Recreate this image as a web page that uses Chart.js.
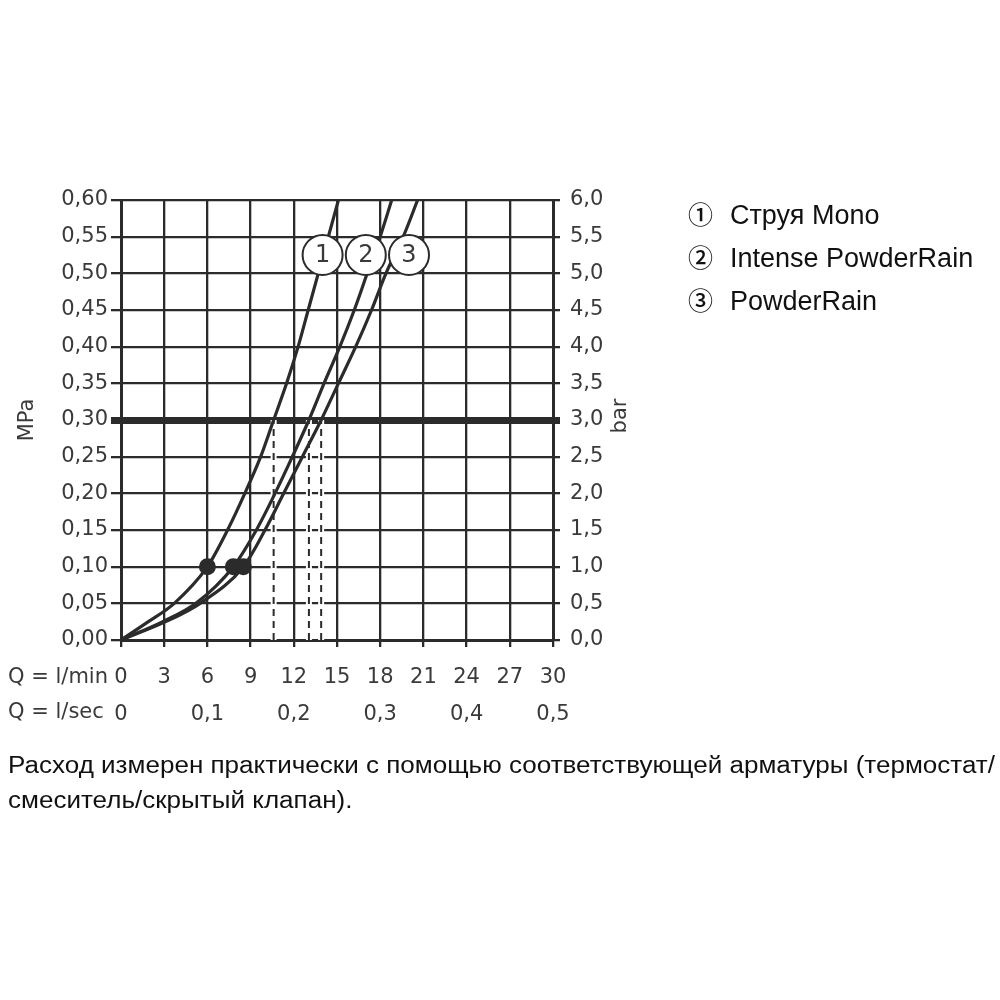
<!DOCTYPE html>
<html>
<head>
<meta charset="utf-8">
<script src="https://cdn.jsdelivr.net/npm/chart.js@4.4.0/dist/chart.umd.min.js"></script>
<style>
html,body{margin:0;padding:0;background:#fff;width:1000px;height:1000px;overflow:hidden;}
#wrap{position:relative;width:1000px;height:1000px;}
#c{position:absolute;left:0;top:0;}
.leg{position:absolute;left:688px;font-family:"Liberation Sans",Arial,sans-serif;font-size:27px;color:#111;white-space:nowrap;line-height:30px;height:30px;}
.leg .mk{display:inline-block;width:42px;font-family:"Noto Sans CJK JP","DejaVu Sans",sans-serif;font-size:25px;font-weight:500;}
.note{position:absolute;left:8px;font-family:"Liberation Sans",Arial,sans-serif;font-size:23px;color:#111;white-space:nowrap;transform-origin:0 0;line-height:26px;}
</style>
</head>
<body>
<div id="wrap">
<canvas id="c" width="1000" height="1000"></canvas>
<div id="legend"></div>
<div id="n1" class="note" style="top:752px"></div>
<div id="n2" class="note" style="top:787px"></div>
</div>
<script>
// ---- data ----
const xTickLabelsLmin = ['0','3','6','9','12','15','18','21','24','27','30'];
const xTickLabelsLsec = ['0','0,1','0,2','0,3','0,4','0,5'];
const yTickLabelsMPa = ['0,00','0,05','0,10','0,15','0,20','0,25','0,30','0,35','0,40','0,45','0,50','0,55','0,60'];
const yTickLabelsBar = ['0,0','0,5','1,0','1,5','2,0','2,5','3,0','3,5','4,0','4,5','5,0','5,5','6,0'];
const pressureMPa   = [0, 0.025, 0.05, 0.10, 0.15, 0.20, 0.25, 0.30, 0.35, 0.40, 0.45, 0.50, 0.55, 0.60];
const flowMono      = [0, 1.9, 3.7, 6.0, 7.4, 8.6, 9.7, 10.6, 11.5, 12.3, 13.0, 13.7, 14.4, 15.1];
const flowIntense   = [0, 2.9, 5.2, 7.8, 9.4, 10.7, 11.9, 13.05, 14.1, 15.2, 16.2, 17.1, 18.0, 18.8];
const flowPowder    = [0, 3.1, 5.5, 8.5, 10.0, 11.3, 12.6, 13.9, 15.1, 16.3, 17.4, 18.4, 19.6, 20.6];
const seriesNames = ['Струя Mono', 'Intense PowderRain', 'PowderRain'];
const seriesMarks = ['①', '②', '③'];
const seriesNumbers = ['1', '2', '3'];
const refPressure = 0.30;
const dotPressure = 0.10;
const tagPressure = 0.525;
const tagFlow = [14, 17, 20];
const axisTitleLeft = 'MPa';
const axisTitleRight = 'bar';
const rowLabelLmin = 'Q = l/min';
const rowLabelLsec = 'Q = l/sec';
const noteLines = [
  'Расход измерен практически с помощью соответствующей арматуры (термостат/',
  'смеситель/скрытый клапан).'
];

// ---- html text ----
const legendEl = document.getElementById('legend');
const legTops = [198, 241, 284];
seriesNames.forEach((n, i) => {
  const d = document.createElement('div');
  d.className = 'leg';
  d.style.top = legTops[i] + 'px';
  const m = document.createElement('span'); m.className = 'mk'; m.textContent = seriesMarks[i];
  d.appendChild(m);
  d.appendChild(document.createTextNode(n));
  legendEl.appendChild(d);
});
const n1 = document.getElementById('n1'), n2 = document.getElementById('n2');
n1.textContent = noteLines[0]; n2.textContent = noteLines[1];
function fitNote(){
  n1.style.transform = 'none'; n2.style.transform = 'none';
  const w = n1.getBoundingClientRect().width;
  const s = 987 / w;
  n1.style.transform = 'scaleX(' + s + ')';
  n2.style.transform = 'scaleX(' + s + ')';
}
fitNote();
if (document.fonts && document.fonts.ready) document.fonts.ready.then(fitNote);

// ---- chart ----
const INK = '#2b2b2b';
const TXT = '#3a3a3a';
const tickFont = {family: '"DejaVu Sans", sans-serif', size: 21};
const toPts = flows => flows.map((q, i) => ({x: q, y: pressureMPa[i]}));
const curves = [flowMono, flowIntense, flowPowder];
const iRef = pressureMPa.indexOf(refPressure);
const iDot = pressureMPa.indexOf(dotPressure);

const datasets = [];
datasets.push({
  label: 'dots', data: curves.map(c => ({x: c[iDot], y: dotPressure})),
  showLine: false, pointRadius: 8.5, pointBackgroundColor: INK, pointBorderWidth: 0, order: 0
});
curves.forEach((c, i) => datasets.push({
  label: seriesNames[i], data: toPts(c), showLine: true, borderColor: INK, borderWidth: 3.2,
  pointRadius: 0, cubicInterpolationMode: 'monotone', order: 1
}));
curves.forEach((c, i) => datasets.push({
  label: 'dash' + i, data: [{x: c[iRef], y: 0}, {x: c[iRef], y: refPressure}], showLine: true,
  borderColor: INK, borderWidth: 2, borderDash: [7, 5], pointRadius: 0, order: 2
}));
curves.forEach((c, i) => datasets.push({
  label: 'band' + i, data: [{x: c[iRef], y: 0}, {x: c[iRef], y: refPressure}], showLine: true,
  borderColor: '#ffffff', borderWidth: 6, pointRadius: 0, order: 3
}));

const isRef = (v, r) => Math.abs(v - r) < 1e-6;

const decor = {
  id: 'decor',
  afterDatasetsDraw(chart) {
    const {ctx, scales} = chart;
    ctx.save();
    tagFlow.forEach((f, i) => {
      const px = scales.x.getPixelForValue(f), py = scales.y.getPixelForValue(tagPressure);
      ctx.beginPath(); ctx.arc(px, py, 20, 0, Math.PI * 2);
      ctx.fillStyle = '#fff'; ctx.fill();
      ctx.lineWidth = 2; ctx.strokeStyle = INK; ctx.stroke();
      ctx.fillStyle = TXT; ctx.font = '24px "DejaVu Sans", sans-serif';
      ctx.textAlign = 'center'; ctx.textBaseline = 'middle';
      ctx.fillText(seriesNumbers[i], px, py + 1);
    });
    ctx.restore();
  },
  afterDraw(chart) {
    const {ctx, scales} = chart;
    ctx.save();
    ctx.fillStyle = TXT; ctx.font = '21px "DejaVu Sans", sans-serif';
    ctx.textAlign = 'left'; ctx.textBaseline = 'middle';
    ctx.fillText(rowLabelLmin, 8, 678);
    ctx.fillText(rowLabelLsec, 8, 713);
    ctx.translate(621, 416);
    ctx.rotate(-Math.PI / 2);
    ctx.textAlign = 'center';
    ctx.fillText(axisTitleRight, 0, 0);
    ctx.restore();
  }
};

new Chart(document.getElementById('c'), {
  type: 'scatter',
  data: {datasets},
  plugins: [decor],
  options: {
    responsive: false, animation: false, devicePixelRatio: 1,
    layout: {padding: {top: 200, left: 0, right: 0, bottom: 0}},
    plugins: {legend: {display: false}, tooltip: {enabled: false}},
    scales: {
      x: {
        type: 'linear', position: 'bottom', min: 0, max: 30, weight: 0,
        afterFit: s => { s.height = 52; },
        ticks: {stepSize: 3, padding: 18, color: TXT, font: tickFont, maxRotation: 0,
                callback: (v, i) => xTickLabelsLmin[i]},
        grid: {color: INK, lineWidth: 2.3, tickLength: 7},
        border: {color: INK, width: 3}
      },
      x2: {
        type: 'linear', position: 'bottom', min: 0, max: 0.5, weight: 1,
        afterFit: s => { s.height = 308; },
        ticks: {stepSize: 0.1, padding: 2, color: TXT, font: tickFont, maxRotation: 0,
                callback: (v, i) => xTickLabelsLsec[i]},
        grid: {display: false},
        border: {display: false}
      },
      y: {
        type: 'linear', position: 'left', min: 0, max: 0.6,
        afterFit: s => { s.width = 121; },
        ticks: {stepSize: 0.05, padding: 3, color: TXT, font: tickFont,
                callback: (v, i) => yTickLabelsMPa[i]},
        grid: {color: INK, tickLength: 10,
               lineWidth: c => (c.tick && isRef(c.tick.value, refPressure)) ? 7 : 2.3},
        border: {color: INK, width: 3},
        title: {display: true, text: axisTitleLeft, color: TXT, font: tickFont, padding: {top: 15, bottom: 0}}
      },
      y2: {
        type: 'linear', position: 'right', min: 0, max: 6,
        afterFit: s => { s.width = 447; },
        ticks: {stepSize: 0.5, padding: 10, color: TXT, font: tickFont,
                callback: (v, i) => yTickLabelsBar[i]},
        grid: {drawOnChartArea: false, color: INK, tickLength: 7,
               lineWidth: c => (c.tick && isRef(c.tick.value, refPressure * 10)) ? 7 : 2.3},
        border: {color: INK, width: 3}
      }
    }
  }
});
</script>
</body>
</html>
